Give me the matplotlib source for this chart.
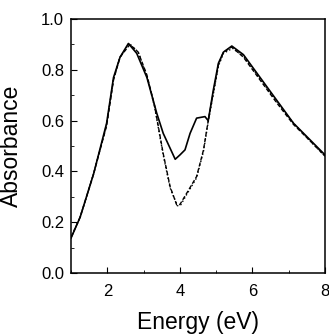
import matplotlib
matplotlib.use('Agg')
import matplotlib.pyplot as plt
from matplotlib.ticker import MultipleLocator, FormatStrFormatter

plt.rcParams['font.family'] = ['Liberation Sans', 'DejaVu Sans']

# solid curve
x_solid = [1.0, 1.25, 1.62, 1.98, 2.17, 2.35, 2.58, 2.81, 3.09, 3.36, 3.54,
           3.87, 4.0, 4.14, 4.28, 4.46, 4.69, 4.78, 4.92, 5.06, 5.2, 5.43,
           5.75, 6.21, 6.67, 7.13, 7.59, 8.0]
y_solid = [0.138, 0.22, 0.39, 0.59, 0.77, 0.85, 0.904, 0.865, 0.77, 0.63, 0.55,
           0.448, 0.465, 0.485, 0.55, 0.61, 0.616, 0.60, 0.72, 0.826, 0.87, 0.894,
           0.86, 0.77, 0.68, 0.59, 0.524, 0.465]

# dashed curve
x_dash = [1.0, 1.25, 1.62, 1.98, 2.17, 2.35, 2.62, 2.85, 3.09, 3.3, 3.54,
          3.73, 3.91, 4.0, 4.19, 4.46, 4.65, 4.78, 4.92, 5.06, 5.2, 5.43,
          5.75, 6.21, 6.67, 7.13, 7.59, 8.0]
y_dash = [0.14, 0.22, 0.39, 0.58, 0.76, 0.85, 0.90, 0.87, 0.78, 0.66, 0.47,
          0.34, 0.269, 0.27, 0.315, 0.38, 0.485, 0.60, 0.71, 0.82, 0.87, 0.89,
          0.85, 0.76, 0.67, 0.585, 0.52, 0.46]

# dotted curve
x_dot = [1.0, 1.25, 1.62, 1.98, 2.17, 2.35, 2.6, 2.85, 3.09, 3.3, 3.54,
         3.73, 3.93, 4.02, 4.19, 4.46, 4.65, 4.78, 4.92, 5.06, 5.2, 5.45,
         5.75, 6.21, 6.67, 7.13, 7.59, 8.0]
y_dot = [0.14, 0.22, 0.39, 0.585, 0.765, 0.85, 0.905, 0.87, 0.775, 0.655, 0.465,
         0.335, 0.265, 0.268, 0.31, 0.375, 0.48, 0.595, 0.705, 0.815, 0.865, 0.885,
         0.855, 0.765, 0.675, 0.59, 0.52, 0.46]

fig = plt.figure(figsize=(3.29, 3.35), dpi=100)
ax = fig.add_axes([0.216, 0.185, 0.772, 0.758])

ax.plot(x_solid, y_solid, 'k-', lw=1.2)
ax.plot(x_dash, y_dash, 'k--', lw=1.0, dashes=(3, 1.5))
ax.plot(x_dot, y_dot, 'k:', lw=1.0)

ax.set_xlim(1, 8)
ax.set_ylim(0, 1)
ax.xaxis.set_major_locator(MultipleLocator(2))
ax.xaxis.set_minor_locator(MultipleLocator(1))
ax.yaxis.set_major_locator(MultipleLocator(0.2))
ax.yaxis.set_minor_locator(MultipleLocator(0.1))
ax.yaxis.set_major_formatter(FormatStrFormatter('%.1f'))
ax.tick_params(which='both', direction='in', labelsize=12)
ax.tick_params(which='major', length=4)
ax.tick_params(which='minor', length=2.5)
ax.tick_params(axis='x', pad=8)
ax.tick_params(axis='y', pad=5)
for s in ax.spines.values():
    s.set_linewidth(1.1)

ax.set_xlabel('Energy (eV)', fontsize=16.5)
ax.set_ylabel('Absorbance', fontsize=16.5)
ax.xaxis.set_label_coords(0.5, -0.148)
ax.yaxis.set_label_coords(-0.19, 0.5)

fig.savefig('out.png', dpi=100)
